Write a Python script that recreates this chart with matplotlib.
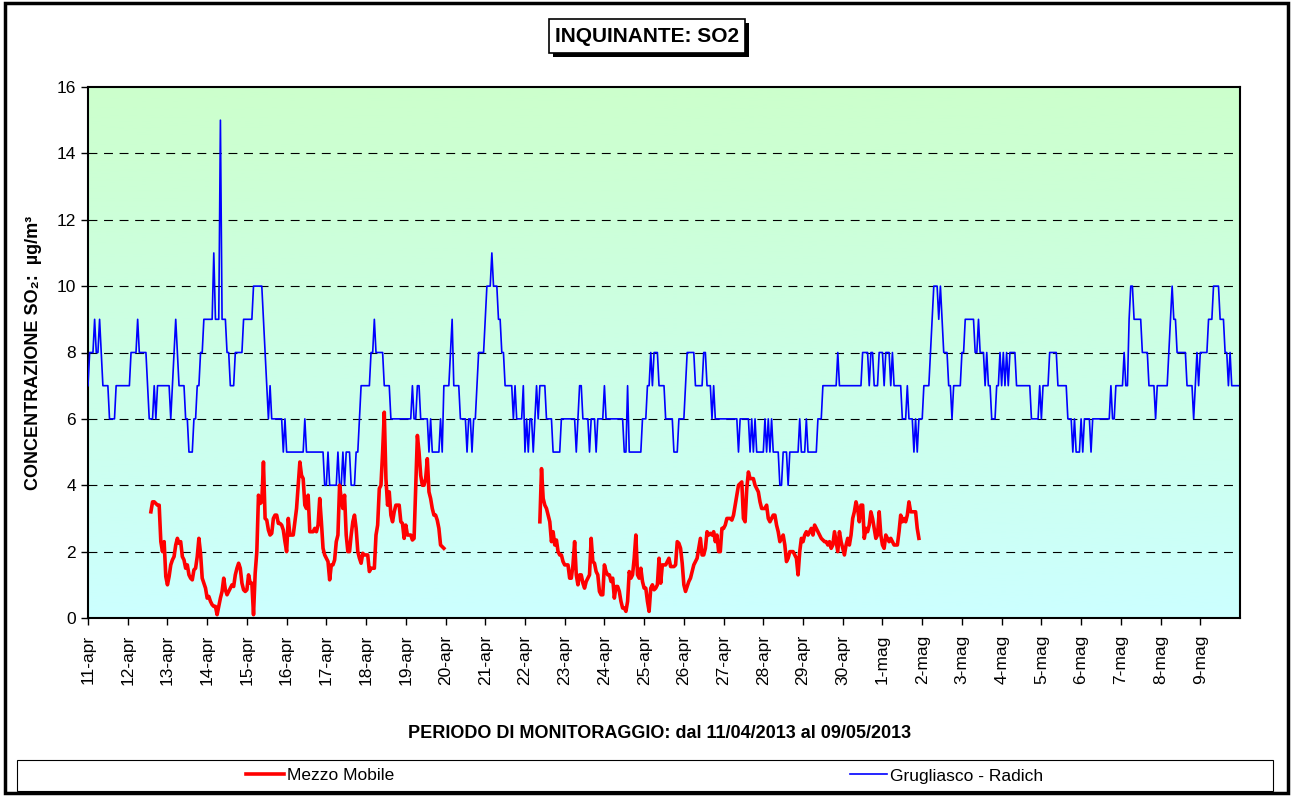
import numpy as np
import matplotlib
matplotlib.use("Agg")
import matplotlib.pyplot as plt
from matplotlib.patches import Rectangle
from matplotlib.lines import Line2D
from matplotlib.colors import LinearSegmentedColormap

plt.rcParams['font.family'] = ['Liberation Sans', 'DejaVu Sans']

# one label per day, 11 april -> 9 may 2013
day_labels = ["11-apr", "12-apr", "13-apr", "14-apr", "15-apr", "16-apr", "17-apr",
              "18-apr", "19-apr", "20-apr", "21-apr", "22-apr", "23-apr", "24-apr",
              "25-apr", "26-apr", "27-apr", "28-apr", "29-apr", "30-apr", "1-mag",
              "2-mag", "3-mag", "4-mag", "5-mag", "6-mag", "7-mag", "8-mag", "9-mag"]

# Grugliasco - Radich, hourly values (24 per day)
grugliasco = [
    7, 8, 8, 8, 9, 8, 8, 9, 8, 7, 7, 7, 7, 6, 6, 6, 6, 7, 7, 7, 7, 7, 7, 7,       # 11-apr
    7, 7, 8, 8, 8, 8, 9, 8, 8, 8, 8, 8, 7, 6, 6, 6, 7, 6, 7, 7, 7, 7, 7, 7,       # 12-apr
    7, 7, 6, 7, 8, 9, 8, 7, 7, 7, 7, 6, 6, 5, 5, 5, 6, 6, 7, 7, 8, 8, 9, 9,       # 13-apr
    9, 9, 9, 9, 11, 9, 9, 9, 15, 9, 9, 9, 8, 8, 7, 7, 7, 8, 8, 8, 8, 8, 9, 9,     # 14-apr
    9, 9, 9, 9, 10, 10, 10, 10, 10, 10, 9, 8, 7, 6, 7, 6, 6, 6, 6, 6, 6, 6, 5, 6,  # 15-apr
    5, 5, 5, 5, 5, 5, 5, 5, 5, 5, 5, 6, 5, 5, 5, 5, 5, 5, 5, 5, 5, 5, 5, 4,       # 16-apr
    4, 5, 4, 4, 4, 4, 4, 5, 4, 4, 5, 4, 5, 5, 5, 4, 4, 4, 5, 5, 6, 7, 7, 7,       # 17-apr
    7, 7, 7, 8, 8, 9, 8, 8, 8, 8, 8, 7, 7, 7, 7, 6, 6, 6, 6, 6, 6, 6, 6, 6,       # 18-apr
    6, 6, 6, 6, 7, 6, 6, 7, 7, 6, 6, 6, 6, 6, 5, 6, 5, 5, 5, 5, 5, 6, 5, 7,       # 19-apr
    7, 7, 7, 8, 9, 7, 7, 7, 7, 6, 6, 6, 6, 5, 6, 6, 5, 6, 6, 7, 8, 8, 8, 8,       # 20-apr
    9, 10, 10, 10, 11, 10, 10, 10, 9, 9, 8, 8, 7, 7, 7, 7, 7, 6, 7, 6, 6, 6, 6, 7,  # 21-apr
    5, 6, 5, 6, 6, 5, 6, 7, 6, 7, 7, 7, 7, 6, 6, 6, 6, 5, 5, 5, 5, 5, 6, 6,       # 22-apr
    6, 6, 6, 6, 6, 6, 6, 5, 6, 7, 7, 6, 6, 6, 6, 5, 6, 6, 6, 5, 6, 6, 6, 6,       # 23-apr
    7, 6, 6, 6, 6, 6, 6, 6, 6, 6, 6, 6, 5, 5, 7, 5, 5, 5, 5, 5, 5, 5, 5, 6,       # 24-apr
    6, 6, 7, 7, 8, 7, 8, 8, 8, 7, 7, 7, 7, 6, 6, 6, 6, 6, 5, 5, 5, 6, 6, 6,       # 25-apr
    6, 7, 8, 8, 8, 8, 8, 7, 7, 7, 7, 7, 8, 8, 7, 7, 7, 6, 7, 6, 6, 6, 6, 6,       # 26-apr
    6, 6, 6, 6, 6, 6, 6, 6, 6, 5, 6, 6, 6, 6, 6, 6, 5, 6, 5, 6, 5, 5, 5, 5,       # 27-apr
    5, 6, 5, 6, 5, 6, 5, 5, 5, 5, 4, 4, 5, 5, 5, 4, 5, 5, 5, 5, 5, 5, 6, 5,       # 28-apr
    5, 5, 6, 5, 5, 5, 5, 5, 5, 6, 6, 6, 7, 7, 7, 7, 7, 7, 7, 7, 7, 8, 7, 7,       # 29-apr
    7, 7, 7, 7, 7, 7, 7, 7, 7, 7, 7, 7, 8, 8, 8, 8, 7, 8, 8, 7, 7, 7, 8, 8,       # 30-apr
    8, 7, 8, 8, 8, 7, 8, 7, 7, 7, 7, 7, 6, 6, 6, 7, 6, 6, 6, 5, 6, 5, 6, 6,       # 1-mag
    6, 7, 7, 7, 7, 8, 9, 10, 10, 10, 9, 10, 9, 8, 8, 8, 7, 7, 6, 7, 7, 7, 7, 7,   # 2-mag
    8, 8, 9, 9, 9, 9, 9, 9, 8, 8, 9, 8, 8, 8, 7, 8, 7, 7, 6, 6, 6, 7, 7, 8,       # 3-mag
    7, 8, 7, 8, 7, 8, 8, 8, 8, 7, 7, 7, 7, 7, 7, 7, 7, 7, 6, 6, 6, 6, 6, 7,       # 4-mag
    6, 7, 7, 7, 7, 8, 8, 8, 8, 8, 7, 7, 7, 7, 7, 7, 6, 6, 6, 5, 6, 5, 5, 5,       # 5-mag
    6, 5, 6, 6, 6, 6, 5, 6, 6, 6, 6, 6, 6, 6, 6, 6, 6, 6, 7, 6, 6, 7, 7, 7,       # 6-mag
    7, 7, 8, 7, 7, 9, 10, 10, 9, 9, 9, 9, 9, 8, 8, 8, 8, 7, 7, 7, 7, 6, 7, 7,     # 7-mag
    7, 7, 7, 7, 7, 8, 9, 10, 9, 9, 8, 8, 8, 8, 8, 8, 7, 7, 7, 7, 6, 7, 8, 7,      # 8-mag
    8, 8, 8, 8, 8, 9, 9, 9, 10, 10, 10, 10, 9, 9, 9, 8, 8, 7, 8, 7, 7, 7, 7, 7,   # 9-mag
]

# Mezzo Mobile, hourly values, two campaigns (start = hours after 11-apr 00:00)
mobile_1_start = 38
mobile_1 = [
    3.2, 3.5, 3.5, 3.45, 3.4, 3.4, 2.3, 2.0, 2.3, 1.25, 1.0, 1.25, 1.6, 1.75,
    1.85, 2.2, 2.4, 2.25, 2.3, 1.85, 1.75, 1.5, 1.6, 1.3, 1.2, 1.15, 1.45, 1.5,
    1.85, 2.4, 1.95, 1.2, 1.05, 0.9, 0.6, 0.65, 0.5, 0.4, 0.35, 0.35, 0.1, 0.35,
    0.6, 0.8, 1.2, 0.85, 0.7, 0.8, 0.9, 1.0, 0.95, 1.3, 1.5, 1.65, 1.5, 1.05,
    0.85, 0.8, 0.85, 1.3, 1.05, 1.05, 0.1, 1.35, 2.0, 3.7, 3.45, 3.5, 4.7, 3.0,
    2.95, 2.65, 2.5, 2.55, 3.0, 3.1, 3.1, 2.85, 2.85, 2.8, 2.65, 2.3, 2.0, 3.0,
    2.5, 2.5, 2.5, 2.9, 3.3, 4.0, 4.7, 4.3, 4.2, 3.4, 3.3, 3.7, 2.6, 2.6,
    2.6, 2.7, 2.6, 2.8, 3.6, 2.9, 2.1, 1.9, 1.8, 1.7, 1.15, 1.6, 1.6, 1.75,
    2.3, 2.5, 4.0, 3.6, 3.3, 3.7, 2.5, 2.0, 2.0, 2.5, 2.9, 3.1, 2.7, 2.0,
    1.8, 1.65, 1.95, 1.9, 1.9, 1.9, 1.4, 1.5, 1.5, 1.5, 2.5, 2.8, 3.9, 4.0,
    5.0, 6.2, 4.2, 3.4, 3.8, 3.1, 2.9, 3.2, 3.4, 3.4, 3.4, 2.9, 2.85, 2.4,
    2.8, 2.5, 2.5, 2.5, 2.35, 2.4, 4.0, 5.5, 5.0, 4.3, 4.0, 4.0, 4.2, 4.8,
    3.8, 3.6, 3.3, 3.1, 3.1, 2.95, 2.7, 2.2, 2.15, 2.1,
]
mobile_2_start = 273
mobile_2 = [
    2.9, 4.5, 3.6, 3.4, 3.3, 3.1, 2.9, 2.3, 2.6, 2.2, 2.35, 2.0, 1.9, 1.9,
    1.7, 1.6, 1.6, 1.6, 1.2, 1.2, 1.6, 2.3, 1.3, 1.0, 1.3, 1.3, 1.05, 0.9,
    1.1, 1.2, 1.3, 2.4, 1.7, 1.65, 1.4, 1.3, 0.8, 0.7, 0.7, 1.6, 1.4, 1.3,
    1.3, 1.1, 1.2, 0.6, 0.95, 0.95, 0.8, 0.5, 0.3, 0.3, 0.2, 0.5, 1.4, 1.2,
    1.3, 1.8, 2.5, 1.3, 1.2, 1.5, 1.1, 0.9, 0.9, 0.5, 0.2, 0.9, 1.0, 0.85,
    0.9, 1.0, 1.8, 1.05, 1.6, 1.6, 1.6, 1.7, 1.8, 1.55, 1.55, 1.55, 1.6, 2.3,
    2.25, 2.1, 1.65, 1.0, 0.8, 0.95, 1.1, 1.2, 1.4, 1.6, 1.7, 1.8, 2.1, 2.4,
    1.9, 1.9, 2.1, 2.6, 2.5, 2.55, 2.5, 2.6, 2.3, 2.5, 2.0, 2.0, 2.7, 2.7,
    2.8, 3.0, 3.0, 3.0, 2.95, 3.1, 3.4, 3.7, 4.0, 4.05, 4.1, 3.0, 2.9, 3.9,
    4.4, 4.2, 4.2, 4.2, 4.0, 3.9, 3.8, 3.5, 3.3, 3.3, 3.3, 3.4, 3.0, 2.9,
    3.0, 3.1, 3.1, 2.8, 2.6, 2.3, 2.4, 2.5, 2.2, 1.7, 1.8, 2.0, 2.0, 2.0,
    1.9, 1.8, 1.3, 2.0, 2.4, 2.3, 2.5, 2.6, 2.5, 2.6, 2.7, 2.5, 2.8, 2.7,
    2.6, 2.5, 2.4, 2.35, 2.3, 2.3, 2.2, 2.3, 2.1, 2.2, 2.6, 2.3, 2.0, 2.6,
    2.3, 2.1, 1.9, 2.2, 2.4, 2.2, 2.5, 3.0, 3.2, 3.5, 3.3, 2.9, 3.4, 3.4,
    2.4, 2.7, 2.6, 2.8, 3.2, 3.0, 2.7, 2.4, 2.5, 3.2, 2.5, 2.2, 2.1, 2.5,
    2.4, 2.3, 2.4, 2.3, 2.2, 2.2, 2.2, 2.6, 3.1, 2.9, 3.0, 2.9, 3.1, 3.5,
    3.2, 3.2, 3.2, 3.2, 2.7, 2.4,
]

W, H = 1293, 796
fig = plt.figure(figsize=(W / 100, H / 100), dpi=100)
ax = fig.add_axes([88 / W, 1 - 618 / H, 1152 / W, 531 / H])

# green -> cyan background
bg = LinearSegmentedColormap.from_list("bg", ["#CCFFCC", "#CCFFFF"])
ax.imshow(np.linspace(0, 1, 256).reshape(-1, 1), cmap=bg, aspect='auto',
          extent=(0, 1, 0, 1), transform=ax.transAxes, zorder=0)

for y in range(2, 16, 2):
    ax.axhline(y, color='black', lw=0.8, ls=(0, (8, 6)), zorder=1)

hours = np.arange(len(grugliasco))
ax.plot(hours, grugliasco, color='#0000FF', lw=1.2, zorder=3)
ax.plot(mobile_1_start + np.arange(len(mobile_1)), mobile_1, color='#FF0000', lw=2.6, zorder=4)
ax.plot(mobile_2_start + np.arange(len(mobile_2)), mobile_2, color='#FF0000', lw=2.6, zorder=4)

ax.set_xlim(0, 24 * len(day_labels))
ax.set_ylim(0, 16)
ax.set_yticks(range(0, 17, 2))
ax.set_xticks(np.arange(len(day_labels)) * 24)
ax.set_xticklabels(day_labels, rotation=90)
ax.tick_params(axis='both', labelsize=12.5, direction='out', length=5, width=1)
ax.tick_params(axis='x', pad=7)
for spine in ax.spines.values():
    spine.set_linewidth(1.5)
    spine.set_color('black')

ax.set_ylabel('CONCENTRAZIONE SO₂:  µg/m³', fontsize=13, fontweight='bold')
ax.yaxis.set_label_coords(-0.040, 0.5)

fig.text(660 / W, 1 - 733 / H, 'PERIODO DI MONITORAGGIO: dal 11/04/2013 al 09/05/2013',
         ha='center', va='center', fontsize=13, fontweight='bold')

# title box with shadow
fig.add_artist(Rectangle((553 / W, 1 - 57 / H), 196 / W, 34 / H, transform=fig.transFigure,
                         fc='black', ec='black', lw=0))
fig.add_artist(Rectangle((549 / W, 1 - 53 / H), 196 / W, 34 / H, transform=fig.transFigure,
                         fc='white', ec='black', lw=1.2))
fig.text(647 / W, 1 - 37 / H, 'INQUINANTE: SO2', ha='center', va='center',
         fontsize=15, fontweight='bold')

# legend box
fig.add_artist(Rectangle((17 / W, 1 - 791 / H), 1256 / W, 31 / H, transform=fig.transFigure,
                         fc='white', ec='black', lw=0.8))
fig.add_artist(Line2D([246 / W, 284 / W], [1 - 774 / H] * 2, transform=fig.transFigure,
                      color='#FF0000', lw=2.6))
fig.text(287 / W, 1 - 776 / H, 'Mezzo Mobile', ha='left', va='center', fontsize=12.5)
fig.add_artist(Line2D([850 / W, 887 / W], [1 - 774 / H] * 2, transform=fig.transFigure,
                      color='#0000FF', lw=1.2))
fig.text(890 / W, 1 - 776 / H, 'Grugliasco - Radich', ha='left', va='center', fontsize=12.5)

# outer frame
fig.add_artist(Rectangle((5 / W, 3 / H), 1283 / W, 790 / H, transform=fig.transFigure,
                         fill=False, ec='black', lw=2.5))

fig.savefig('out.png', dpi=100)
